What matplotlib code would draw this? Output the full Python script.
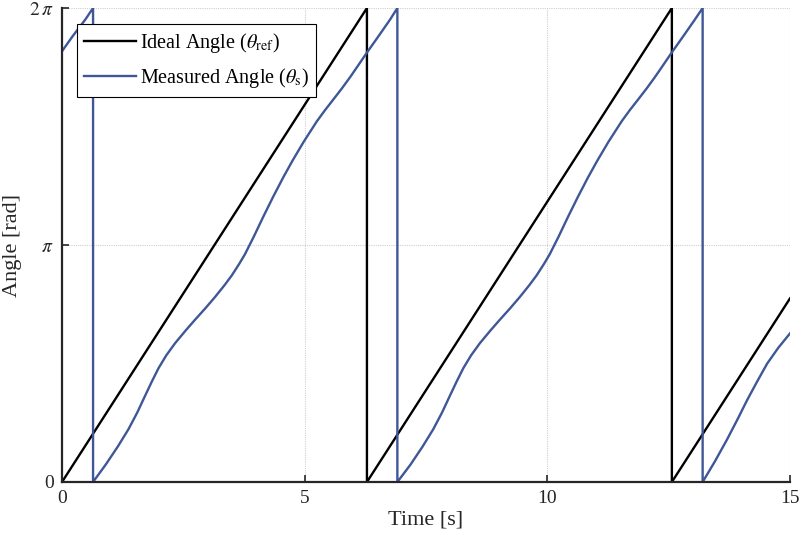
import matplotlib
matplotlib.use("Agg")
import matplotlib.pyplot as plt
import numpy as np

plt.rcParams['font.family'] = ['Liberation Serif', 'DejaVu Serif']
plt.rcParams['mathtext.fontset'] = 'stix'

# ideal angle (sawtooth breakpoints)
t_ref = [0.0, 6.283, 6.283, 12.566, 12.566, 15.0]
theta_ref = [0.0, 6.283, 0.0, 6.283, 0.0, 2.434]

# measured angle (wraps at 0.64, 6.91, 13.20 s)
t_meas = [0.0, 0.22, 0.48, 0.64, 0.64,
          0.90, 1.15, 1.37, 1.55, 1.71, 1.85, 1.99, 2.15, 2.33, 2.55, 2.74,
          2.95, 3.15, 3.35, 3.50, 3.65, 3.77, 3.95, 4.15, 4.35, 4.56, 4.75,
          4.98, 5.25, 5.42, 5.59, 5.77, 5.94, 6.10, 6.28, 6.50, 6.76, 6.91, 6.91,
          7.18, 7.43, 7.65, 7.83, 7.99, 8.13, 8.27, 8.43, 8.61, 8.83, 9.02,
          9.23, 9.43, 9.63, 9.78, 9.93, 10.05, 10.23, 10.43, 10.63, 10.84, 11.03,
          11.26, 11.53, 11.70, 11.87, 12.05, 12.22, 12.38, 12.56, 12.78, 13.04, 13.20, 13.20,
          13.45, 13.70, 13.91, 14.12, 14.33, 14.53, 14.76, 15.0]
theta_meas = [5.71, 5.91, 6.13, 6.283, 0.0,
              0.23, 0.47, 0.70, 0.92, 1.14, 1.33, 1.51, 1.68, 1.84, 2.01, 2.15,
              2.30, 2.45, 2.61, 2.74, 2.89, 3.02, 3.25, 3.52, 3.78, 4.04, 4.26,
              4.51, 4.78, 4.93, 5.07, 5.22, 5.37, 5.52, 5.69, 5.89, 6.13, 6.283, 0.0,
              0.23, 0.47, 0.70, 0.92, 1.14, 1.33, 1.51, 1.68, 1.84, 2.01, 2.15,
              2.30, 2.45, 2.61, 2.74, 2.89, 3.02, 3.25, 3.52, 3.78, 4.04, 4.26,
              4.51, 4.78, 4.93, 5.07, 5.22, 5.37, 5.52, 5.69, 5.89, 6.13, 6.283, 0.0,
              0.27, 0.56, 0.82, 1.09, 1.34, 1.57, 1.78, 1.97]

x_ticks = [0, 5, 10, 15]
y_ticks = [0, np.pi, 2 * np.pi]
y_ticklabels = ['0', r'$\pi$', r'$2\,\pi$']

fig = plt.figure(figsize=(8, 5.45), dpi=100)
ax = fig.add_axes([0.0775, 0.1156, 0.91, 0.8697])

ax.plot(t_ref, theta_ref, color='black', lw=1.7, label=r'Ideal Angle ($\theta_{\rm ref}$)')
ax.plot(t_meas, theta_meas, color='#3f5797', lw=1.7, label=r'Measured Angle ($\theta_{\rm s}$)')

ax.set_xlim(0, 15)
ax.set_ylim(0, 2 * np.pi)
ax.set_xticks(x_ticks)
ax.set_yticks(y_ticks)
ax.set_yticklabels(y_ticklabels)
ax.tick_params(direction='in', length=5, width=1.2, labelsize=14, colors='#262626', pad=6)

for s in ['top', 'right']:
    ax.spines[s].set_visible(False)
for s in ['left', 'bottom']:
    ax.spines[s].set_linewidth(1.6)
    ax.spines[s].set_color('#262626')

ax.grid(True, color='#d0d0d0', lw=0.8, ls=(0, (1, 1)))
ax.set_axisbelow(True)

ax.set_xlabel('Time [s]', fontsize=16, color='#262626', labelpad=2)
ax.set_ylabel('Angle [rad]', fontsize=16, color='#262626', labelpad=5)

leg = ax.legend(loc='upper left', bbox_to_anchor=(0.02, 0.967), borderaxespad=0,
                fontsize=14.5, handlelength=2.6, fancybox=False, framealpha=1,
                edgecolor='black', borderpad=0.35, labelspacing=0.55, handletextpad=0.2)
leg.get_frame().set_linewidth(0.8)

plt.savefig('out.png', dpi=100)
